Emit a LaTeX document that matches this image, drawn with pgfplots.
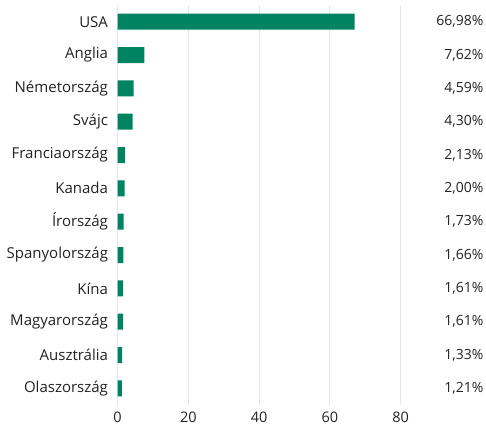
\documentclass[border=0pt]{standalone}
\usepackage{pgfplots}
\pgfplotsset{compat=1.18}
\usepackage{fontspec}
\setmainfont{Open Sans}
\usetikzlibrary{calc}
\definecolor{barg}{RGB}{0,131,96}
\definecolor{txt}{RGB}{34,34,34}
\definecolor{gridc}{RGB}{226,231,238}
\begin{document}
\begin{tikzpicture}
\begin{axis}[name=ax, scale only axis, width=368.5pt, height=400pt,
 xmin=0, xmax=104.1, ymin=-0.5, ymax=11.5, y dir=reverse,
 axis x line*=bottom, axis y line*=left, axis line style={draw=none},
 xtick={0,20,40,60,80}, ytick={0,...,11},
 yticklabels={USA,Anglia,Németország,Svájc,Franciaország,Kanada,Írország,Spanyolország,Kína,Magyarország,Ausztrália,Olaszország},
 xmajorgrids, major grid style={gridc, line width=1pt},
 major tick length=0pt, tick style={draw=none},
 tick label style={font=\fontsize{14.5}{16}\selectfont, text=txt},
 yticklabel style={xshift=-6pt, font=\fontsize{15}{16}\selectfont},
 /pgf/number format/assume math mode=true,
 xticklabel style={yshift=-3pt},
 clip=false,
]
\addplot[xbar, bar width=16pt, fill=barg, draw=none] coordinates {
(66.98,0) (7.62,1) (4.59,2) (4.30,3) (2.13,4) (2.00,5) (1.73,6) (1.66,7) (1.61,8) (1.61,9) (1.33,10) (1.21,11)};
\addplot[draw=none, mark=none, nodes near coords, point meta=explicit symbolic,
 every node near coord/.append style={anchor=east, inner sep=0pt, font=\fontsize{14}{16}\selectfont, text=txt}] coordinates {
(103.4,0) [66,98\%] (103.4,1) [7,62\%] (103.4,2) [4,59\%] (103.4,3) [4,30\%] (103.4,4) [2,13\%] (103.4,5) [2,00\%] (103.4,6) [1,73\%] (103.4,7) [1,66\%] (103.4,8) [1,61\%] (103.4,9) [1,61\%] (103.4,10) [1,33\%] (103.4,11) [1,21\%]};
\end{axis}
\path[use as bounding box] ($(ax.south west)+(-117.5pt,-23pt)$) rectangle ($(ax.north east)+(0,5pt)$);
\end{tikzpicture}
\end{document}
